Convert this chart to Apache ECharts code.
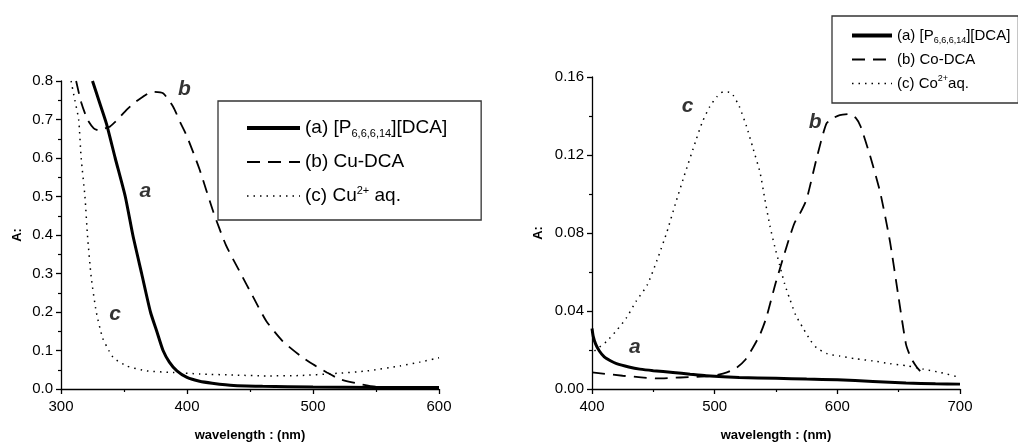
<!doctype html>
<html lang="en">
<head>
<meta charset="UTF-8">
<script src="https://cdn.jsdelivr.net/npm/echarts@6/dist/echarts.min.js"></script>
<title>UV-Vis spectra</title>
<style>
  html, body { margin: 0; padding: 0; background: #fff; }
</style>
</head>
<body>
<div id="main" style="width:1018px;height:447px;"></div>
<script>
// ---- left panel: Cu system ----
var cuIL_x   = [325, 330, 336, 343, 351, 357, 364, 371, 376, 381, 386, 392, 400, 410, 420, 437, 460, 500, 550, 600];
var cuIL_y   = [0.8, 0.75, 0.69, 0.6, 0.5, 0.4, 0.3, 0.2, 0.15, 0.1, 0.07, 0.047, 0.03, 0.02, 0.015, 0.009, 0.007, 0.005, 0.004, 0.004];
var cuDCA_x  = [312, 316, 321, 326, 330, 335, 339, 345, 352, 358, 365, 372, 381, 389, 395, 400, 410, 421, 431, 442, 453, 463, 476, 490, 500, 511, 521, 537, 550, 575, 600];
var cuDCA_y  = [0.8, 0.745, 0.70, 0.677, 0.672, 0.677, 0.682, 0.70, 0.725, 0.743, 0.759, 0.772, 0.768, 0.733, 0.69, 0.656, 0.57, 0.459, 0.373, 0.304, 0.236, 0.176, 0.124, 0.086, 0.064, 0.043, 0.026, 0.013, 0.006, 0.004, 0.003];
var cuAq_x   = [308, 311, 314, 316, 319, 321, 324, 328, 333, 338, 342, 352, 368, 389, 410, 440, 463, 490, 516, 543, 569, 585, 600];
var cuAq_y   = [0.8, 0.75, 0.7, 0.6, 0.5, 0.4, 0.29, 0.2, 0.133, 0.1, 0.08, 0.06, 0.047, 0.043, 0.039, 0.036, 0.034, 0.035, 0.04, 0.047, 0.06, 0.07, 0.081];

// ---- right panel: Co system ----
var coIL_x   = [400, 401, 403, 406, 410, 415, 420, 430, 439, 450, 466, 480, 493, 520, 550, 575, 600, 629, 656, 680, 700];
var coIL_y   = [0.031, 0.027, 0.023, 0.0195, 0.0165, 0.0145, 0.013, 0.0113, 0.0102, 0.0094, 0.0085, 0.0076, 0.0068, 0.0059, 0.0055, 0.0051, 0.0047, 0.0039, 0.0031, 0.0027, 0.0025];
var coDCA_x  = [400, 425, 440, 453, 472, 499, 510, 518, 525, 531, 537, 542, 550, 559, 565, 570, 575, 583, 591, 597, 602, 610, 615, 619, 627, 635, 643, 650, 656, 660, 665, 672];
var coDCA_y  = [0.0085, 0.0068, 0.006, 0.0054, 0.0059, 0.0068, 0.0085, 0.011, 0.015, 0.021, 0.028, 0.0364, 0.055, 0.0737, 0.085, 0.0906, 0.0974, 0.118, 0.136, 0.139, 0.1405, 0.141, 0.139, 0.1346, 0.119, 0.1007, 0.0753, 0.0466, 0.0229, 0.016, 0.011, 0.006];
var coAq_x   = [402, 412, 420, 428, 436, 445, 453, 461, 468, 475, 485, 490, 496, 502, 507, 512, 515, 520, 526, 531, 537, 541, 545, 549, 553, 557, 561, 566, 572, 578, 583, 592, 602, 615, 629, 643, 657, 670, 684, 700];
var coAq_y   = [0.0195, 0.0245, 0.03, 0.0364, 0.045, 0.0533, 0.066, 0.0804, 0.095, 0.109, 0.128, 0.137, 0.1448, 0.150, 0.1524, 0.1522, 0.1507, 0.145, 0.1346, 0.124, 0.111, 0.097, 0.0838, 0.073, 0.0635, 0.054, 0.0466, 0.038, 0.0313, 0.025, 0.0212, 0.018, 0.0169, 0.0155, 0.0144, 0.013, 0.0119, 0.0102, 0.0085, 0.0059];

// curve letters (data coordinates)
var tagsLeft  = [['a', 367, 0.514], ['b', 398, 0.779], ['c', 343, 0.193]];
var tagsRight = [['c', 478, 0.145], ['b', 582, 0.137], ['a', 435, 0.0213]];

var legendLeft  = {La: '(a) [P{sub|6,6,6,14}][DCA]', Lb: '(b) Cu-DCA', Lc: '(c) Cu{sup|2+} aq.'};
var legendRight = {Ra: '(a) [P{sub|6,6,6,14}][DCA]', Rb: '(b) Co-DCA', Rc: '(c) Co{sup|2+}aq.'};

function zip(xs, ys) {
    var out = [];
    for (var i = 0; i < xs.length; i++) out.push([xs[i], ys[i]]);
    return out;
}

var font = "'Liberation Sans', Arial, sans-serif";
var solid  = {color: '#000', width: 3, type: 'solid'};
var dashed = {color: '#000', width: 1.8, type: [13, 8]};
var dotted = {color: '#000', width: 1.5, type: [1.5, 5]};

function curve(name, idx, xs, ys, ls) {
    return {
        name: name, type: 'line', xAxisIndex: idx, yAxisIndex: idx,
        data: zip(xs, ys), symbol: 'none', smooth: 0.2,
        lineStyle: ls, itemStyle: {color: '#000'}
    };
}

function tagSeries(idx, tags) {
    return {
        type: 'scatter', xAxisIndex: idx, yAxisIndex: idx, symbolSize: 1,
        itemStyle: {color: 'rgba(0,0,0,0)'}, silent: true,
        data: tags.map(function (t) { return {value: [t[1], t[2]], name: t[0]}; }),
        label: {
            show: true, position: 'inside', formatter: '{b}',
            fontFamily: font, fontSize: 21, fontWeight: 'bold', fontStyle: 'italic', color: '#000'
        }
    };
}

function xAx(idx, min, max) {
    return {
        gridIndex: idx, type: 'value', min: min, max: max, interval: 100,
        name: 'wavelength : (nm)', nameLocation: 'middle', nameGap: 40,
        nameTextStyle: {fontFamily: font, fontSize: 13, fontWeight: 'bold', color: '#000'},
        axisLine: {lineStyle: {color: '#000', width: 1.3}},
        axisTick: {length: 5, lineStyle: {color: '#000', width: 1.3}},
        minorTick: {show: true, splitNumber: 2, length: 3, lineStyle: {color: '#000', width: 1.2}},
        splitLine: {show: false},
        axisLabel: {fontFamily: font, fontSize: 15, color: '#000', margin: 10}
    };
}

function yAx(idx, max, step, digits, gap) {
    return {
        gridIndex: idx, type: 'value', min: 0, max: max, interval: step,
        name: 'A:', nameLocation: 'middle', nameGap: gap, nameRotate: 90,
        nameTextStyle: {fontFamily: font, fontSize: 13, fontWeight: 'bold', color: '#000'},
        axisLine: {show: true, lineStyle: {color: '#000', width: 1.3}},
        axisTick: {show: true, length: 5, lineStyle: {color: '#000', width: 1.3}},
        minorTick: {show: true, splitNumber: 2, length: 3, lineStyle: {color: '#000', width: 1.2}},
        splitLine: {show: false},
        axisLabel: {
            fontFamily: font, fontSize: 15, color: '#000', margin: 8,
            formatter: function (v) { return v.toFixed(digits); }
        }
    };
}

function legendItems(names, widths) {
    return names.map(function (n, i) {
        return {name: n, lineStyle: {width: widths[i]}};
    });
}

var chart = echarts.init(document.getElementById('main'));
chart.setOption({
    animation: false,
    backgroundColor: '#fff',
    grid: [
        {left: 61, top: 81, width: 378, height: 311},
        {left: 592, top: 77, width: 368, height: 315}
    ],
    xAxis: [xAx(0, 300, 600), xAx(1, 400, 700)],
    yAxis: [yAx(0, 0.8, 0.1, 1, 37), yAx(1, 0.16, 0.04, 2, 47)],
    legend: [
        {
            data: legendItems(['La', 'Lb', 'Lc'], [4, 2, 1.5]),
            orient: 'vertical', left: 218, top: 101,
            padding: [16, 34, 13, 27], itemWidth: 53, itemHeight: 20, itemGap: 12,
            borderColor: '#333', borderWidth: 1.3, borderRadius: 0,
            itemStyle: {opacity: 0},
            formatter: function (n) { return legendLeft[n]; },
            textStyle: {
                fontFamily: font, fontSize: 19, color: '#000', lineHeight: 22,
                rich: {
                    sub: {fontFamily: font, fontSize: 11, color: '#000', verticalAlign: 'bottom', lineHeight: 11},
                    sup: {fontFamily: font, fontSize: 11, color: '#000', verticalAlign: 'top', lineHeight: 11}
                }
            }
        },
        {
            data: legendItems(['Ra', 'Rb', 'Rc'], [4, 2, 1.5]),
            orient: 'vertical', left: 832, top: 16,
            padding: [10, 8, 10, 18], itemWidth: 40, itemHeight: 18, itemGap: 5,
            borderColor: '#333', borderWidth: 1.3, borderRadius: 0,
            itemStyle: {opacity: 0},
            formatter: function (n) { return legendRight[n]; },
            textStyle: {
                fontFamily: font, fontSize: 15, color: '#000', lineHeight: 19,
                rich: {
                    sub: {fontFamily: font, fontSize: 9, color: '#000', verticalAlign: 'bottom', lineHeight: 9},
                    sup: {fontFamily: font, fontSize: 9, color: '#000', verticalAlign: 'top', lineHeight: 9}
                }
            }
        }
    ],
    series: [
        curve('La', 0, cuIL_x, cuIL_y, solid),
        curve('Lb', 0, cuDCA_x, cuDCA_y, dashed),
        curve('Lc', 0, cuAq_x, cuAq_y, dotted),
        curve('Ra', 1, coIL_x, coIL_y, solid),
        curve('Rb', 1, coDCA_x, coDCA_y, dashed),
        curve('Rc', 1, coAq_x, coAq_y, dotted),
        tagSeries(0, tagsLeft),
        tagSeries(1, tagsRight)
    ]
});
</script>
</body>
</html>
